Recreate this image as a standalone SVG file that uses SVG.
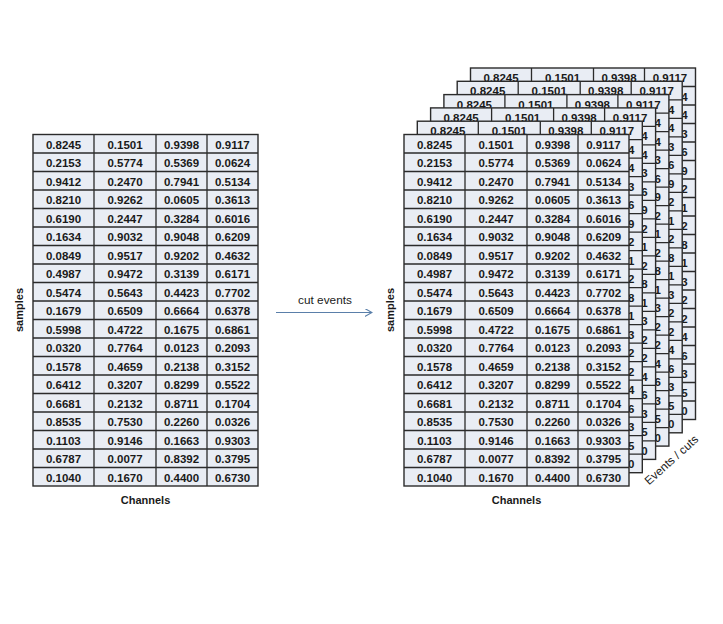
<svg xmlns="http://www.w3.org/2000/svg" xmlns:xlink="http://www.w3.org/1999/xlink" width="723" height="624" viewBox="0 0 723 624">
<style>
.cellbg{fill:#e9edf4;stroke:#2b2b2b;stroke-width:1.4}
.gl{fill:none;stroke:#2b2b2b;stroke-width:1.3}
.v{font-family:"Liberation Sans",Arial,sans-serif;font-weight:bold;font-size:11.5px;fill:#1a1a1a;text-anchor:middle}
.lbl{font-family:"Liberation Sans",Arial,sans-serif;font-size:11.8px;fill:#1a1a1a}
.sm{font-family:"Liberation Sans",Arial,sans-serif;font-size:11px;font-weight:bold;fill:#1a1a1a;text-anchor:middle}
.ch{font-family:"Liberation Sans",Arial,sans-serif;font-size:11px;font-weight:bold;fill:#1a1a1a;text-anchor:middle}
.conn{fill:none;stroke:#5a7fa9;stroke-width:1.2}
</style>
<defs>
<g id="grid">
<rect class="cellbg" x="0" y="0" width="225" height="351.5"/>
<path class="gl" d="M61 0V351.5M123 0V351.5M174 0V351.5M0 18.5H225M0 37H225M0 55.5H225M0 74H225M0 92.5H225M0 111H225M0 129.5H225M0 148H225M0 166.5H225M0 185H225M0 203.5H225M0 222H225M0 240.5H225M0 259H225M0 277.5H225M0 296H225M0 314.5H225M0 333H225"/>
</g>
<marker id="arr" viewBox="0 0 10 10" refX="9" refY="5" markerWidth="8" markerHeight="8" markerUnits="userSpaceOnUse" orient="auto">
<path d="M0 0L9 5L0 10" fill="none" stroke="#5a7fa9" stroke-width="1.4"/>
</marker>
</defs>
<rect x="0" y="0" width="723" height="624" fill="#ffffff"/>

<g id="left-table" transform="translate(33,134.5)">
<use href="#grid"/>
<g id="left-vals" class="v">
<text y="14"><tspan x="30.5">0.8245</tspan><tspan x="92">0.1501</tspan><tspan x="148.5">0.9398</tspan><tspan x="199.5">0.9117</tspan></text>
<text y="32.5"><tspan x="30.5">0.2153</tspan><tspan x="92">0.5774</tspan><tspan x="148.5">0.5369</tspan><tspan x="199.5">0.0624</tspan></text>
<text y="51"><tspan x="30.5">0.9412</tspan><tspan x="92">0.2470</tspan><tspan x="148.5">0.7941</tspan><tspan x="199.5">0.5134</tspan></text>
<text y="69.5"><tspan x="30.5">0.8210</tspan><tspan x="92">0.9262</tspan><tspan x="148.5">0.0605</tspan><tspan x="199.5">0.3613</tspan></text>
<text y="88"><tspan x="30.5">0.6190</tspan><tspan x="92">0.2447</tspan><tspan x="148.5">0.3284</tspan><tspan x="199.5">0.6016</tspan></text>
<text y="106.5"><tspan x="30.5">0.1634</tspan><tspan x="92">0.9032</tspan><tspan x="148.5">0.9048</tspan><tspan x="199.5">0.6209</tspan></text>
<text y="125"><tspan x="30.5">0.0849</tspan><tspan x="92">0.9517</tspan><tspan x="148.5">0.9202</tspan><tspan x="199.5">0.4632</tspan></text>
<text y="143.5"><tspan x="30.5">0.4987</tspan><tspan x="92">0.9472</tspan><tspan x="148.5">0.3139</tspan><tspan x="199.5">0.6171</tspan></text>
<text y="162"><tspan x="30.5">0.5474</tspan><tspan x="92">0.5643</tspan><tspan x="148.5">0.4423</tspan><tspan x="199.5">0.7702</tspan></text>
<text y="180.5"><tspan x="30.5">0.1679</tspan><tspan x="92">0.6509</tspan><tspan x="148.5">0.6664</tspan><tspan x="199.5">0.6378</tspan></text>
<text y="199"><tspan x="30.5">0.5998</tspan><tspan x="92">0.4722</tspan><tspan x="148.5">0.1675</tspan><tspan x="199.5">0.6861</tspan></text>
<text y="217.5"><tspan x="30.5">0.0320</tspan><tspan x="92">0.7764</tspan><tspan x="148.5">0.0123</tspan><tspan x="199.5">0.2093</tspan></text>
<text y="236"><tspan x="30.5">0.1578</tspan><tspan x="92">0.4659</tspan><tspan x="148.5">0.2138</tspan><tspan x="199.5">0.3152</tspan></text>
<text y="254.5"><tspan x="30.5">0.6412</tspan><tspan x="92">0.3207</tspan><tspan x="148.5">0.8299</tspan><tspan x="199.5">0.5522</tspan></text>
<text y="273"><tspan x="30.5">0.6681</tspan><tspan x="92">0.2132</tspan><tspan x="148.5">0.8711</tspan><tspan x="199.5">0.1704</tspan></text>
<text y="291.5"><tspan x="30.5">0.8535</tspan><tspan x="92">0.7530</tspan><tspan x="148.5">0.2260</tspan><tspan x="199.5">0.0326</tspan></text>
<text y="310"><tspan x="30.5">0.1103</tspan><tspan x="92">0.9146</tspan><tspan x="148.5">0.1663</tspan><tspan x="199.5">0.9303</tspan></text>
<text y="328.5"><tspan x="30.5">0.6787</tspan><tspan x="92">0.0077</tspan><tspan x="148.5">0.8392</tspan><tspan x="199.5">0.3795</tspan></text>
<text y="347"><tspan x="30.5">0.1040</tspan><tspan x="92">0.1670</tspan><tspan x="148.5">0.4400</tspan><tspan x="199.5">0.6730</tspan></text>
</g>
</g>

<g id="left-labels">
<text class="sm" transform="translate(23,310) rotate(-90)">samples</text>
<text class="ch" x="145.5" y="504">Channels</text>
</g>

<g id="connectors">
<path class="conn" d="M276 312.5H372" marker-end="url(#arr)"/>
<text class="lbl" x="325" y="304" text-anchor="middle">cut events</text>
</g>

<g id="event-stack">
<g id="layer5" transform="translate(470.5,68)"><use href="#grid"/><use href="#front-vals"/></g>
<g id="layer4" transform="translate(457.2,81.3)"><use href="#grid"/><use href="#front-vals"/></g>
<g id="layer3" transform="translate(443.9,94.6)"><use href="#grid"/><use href="#front-vals"/></g>
<g id="layer2" transform="translate(430.6,107.9)"><use href="#grid"/><use href="#front-vals"/></g>
<g id="layer1" transform="translate(417.3,121.2)"><use href="#grid"/><use href="#front-vals"/></g>
<g id="front-table" transform="translate(404,134.5)">
<use href="#grid"/>
<g id="front-vals" class="v">
<text y="14"><tspan x="30.5">0.8245</tspan><tspan x="92">0.1501</tspan><tspan x="148.5">0.9398</tspan><tspan x="199.5">0.9117</tspan></text>
<text y="32.5"><tspan x="30.5">0.2153</tspan><tspan x="92">0.5774</tspan><tspan x="148.5">0.5369</tspan><tspan x="199.5">0.0624</tspan></text>
<text y="51"><tspan x="30.5">0.9412</tspan><tspan x="92">0.2470</tspan><tspan x="148.5">0.7941</tspan><tspan x="199.5">0.5134</tspan></text>
<text y="69.5"><tspan x="30.5">0.8210</tspan><tspan x="92">0.9262</tspan><tspan x="148.5">0.0605</tspan><tspan x="199.5">0.3613</tspan></text>
<text y="88"><tspan x="30.5">0.6190</tspan><tspan x="92">0.2447</tspan><tspan x="148.5">0.3284</tspan><tspan x="199.5">0.6016</tspan></text>
<text y="106.5"><tspan x="30.5">0.1634</tspan><tspan x="92">0.9032</tspan><tspan x="148.5">0.9048</tspan><tspan x="199.5">0.6209</tspan></text>
<text y="125"><tspan x="30.5">0.0849</tspan><tspan x="92">0.9517</tspan><tspan x="148.5">0.9202</tspan><tspan x="199.5">0.4632</tspan></text>
<text y="143.5"><tspan x="30.5">0.4987</tspan><tspan x="92">0.9472</tspan><tspan x="148.5">0.3139</tspan><tspan x="199.5">0.6171</tspan></text>
<text y="162"><tspan x="30.5">0.5474</tspan><tspan x="92">0.5643</tspan><tspan x="148.5">0.4423</tspan><tspan x="199.5">0.7702</tspan></text>
<text y="180.5"><tspan x="30.5">0.1679</tspan><tspan x="92">0.6509</tspan><tspan x="148.5">0.6664</tspan><tspan x="199.5">0.6378</tspan></text>
<text y="199"><tspan x="30.5">0.5998</tspan><tspan x="92">0.4722</tspan><tspan x="148.5">0.1675</tspan><tspan x="199.5">0.6861</tspan></text>
<text y="217.5"><tspan x="30.5">0.0320</tspan><tspan x="92">0.7764</tspan><tspan x="148.5">0.0123</tspan><tspan x="199.5">0.2093</tspan></text>
<text y="236"><tspan x="30.5">0.1578</tspan><tspan x="92">0.4659</tspan><tspan x="148.5">0.2138</tspan><tspan x="199.5">0.3152</tspan></text>
<text y="254.5"><tspan x="30.5">0.6412</tspan><tspan x="92">0.3207</tspan><tspan x="148.5">0.8299</tspan><tspan x="199.5">0.5522</tspan></text>
<text y="273"><tspan x="30.5">0.6681</tspan><tspan x="92">0.2132</tspan><tspan x="148.5">0.8711</tspan><tspan x="199.5">0.1704</tspan></text>
<text y="291.5"><tspan x="30.5">0.8535</tspan><tspan x="92">0.7530</tspan><tspan x="148.5">0.2260</tspan><tspan x="199.5">0.0326</tspan></text>
<text y="310"><tspan x="30.5">0.1103</tspan><tspan x="92">0.9146</tspan><tspan x="148.5">0.1663</tspan><tspan x="199.5">0.9303</tspan></text>
<text y="328.5"><tspan x="30.5">0.6787</tspan><tspan x="92">0.0077</tspan><tspan x="148.5">0.8392</tspan><tspan x="199.5">0.3795</tspan></text>
<text y="347"><tspan x="30.5">0.1040</tspan><tspan x="92">0.1670</tspan><tspan x="148.5">0.4400</tspan><tspan x="199.5">0.6730</tspan></text>
</g>
</g>
</g>

<g id="right-labels">
<text class="sm" transform="translate(394,310) rotate(-90)">samples</text>
<text class="ch" x="516.5" y="504">Channels</text>
<text class="lbl" transform="translate(674,463) rotate(-42)" text-anchor="middle" fill="#333" font-size="12px">Events / cuts</text>
</g>
</svg>
